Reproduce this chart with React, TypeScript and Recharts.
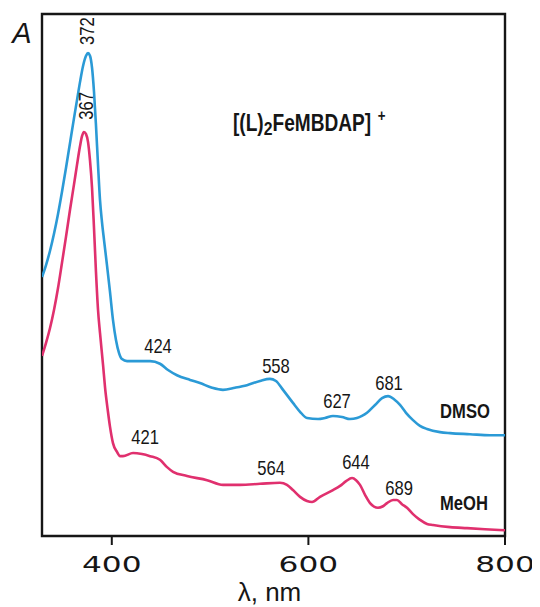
import { LineChart, Line, XAxis, YAxis, ReferenceArea, ReferenceDot } from "recharts";

// wavelength (nm) / absorbance (arb. units)
const dmsoNm = [329, 333.1, 337.1, 341.2, 345.3, 349.3, 353.4, 357.5, 361.6, 364.6, 367.7, 370.7, 373.8, 375.8, 377.8, 379.9, 381.9, 383.9, 386, 388, 390, 392.1, 395.1, 398.2, 401.2, 404.3, 407.3, 410.4, 415.5, 438.9, 449, 457.2, 466.3, 479.6, 489.7, 502, 513.1, 525.3, 537.5, 550.8, 560.9, 567, 574.2, 584.3, 591.5, 598.6, 609.8, 616.9, 625, 634.2, 642.3, 649.4, 654.5, 659.6, 667.8, 674.9, 681, 687.1, 693.2, 699.3, 706.4, 713.5, 720.7, 733.9, 744.1, 764.4, 784.7, 800];
const dmsoA = [0.496, 0.519, 0.546, 0.579, 0.617, 0.659, 0.705, 0.753, 0.801, 0.835, 0.87, 0.9, 0.92, 0.925, 0.92, 0.897, 0.851, 0.787, 0.711, 0.644, 0.602, 0.567, 0.519, 0.467, 0.414, 0.375, 0.351, 0.339, 0.335, 0.335, 0.33, 0.318, 0.308, 0.299, 0.293, 0.284, 0.28, 0.284, 0.289, 0.297, 0.301, 0.297, 0.28, 0.255, 0.238, 0.226, 0.224, 0.226, 0.23, 0.228, 0.224, 0.226, 0.23, 0.236, 0.251, 0.264, 0.268, 0.262, 0.251, 0.236, 0.222, 0.211, 0.205, 0.199, 0.197, 0.195, 0.193, 0.193];

const meohNm = [329, 333.1, 337.1, 341.2, 345.3, 349.3, 353.4, 357.5, 361.6, 364.6, 367.7, 369.7, 371.7, 373.8, 375.8, 377.8, 379.9, 381.9, 383.9, 386, 388, 391.1, 393.1, 396.1, 398.2, 401.2, 405.3, 408.4, 411.4, 421.6, 430.7, 438.9, 449, 456.2, 462.3, 476.5, 496.9, 513.1, 530.4, 550.8, 571.1, 578.2, 584.3, 591.5, 598.6, 603.7, 611.8, 625, 632.2, 638.3, 644.4, 648.5, 652.5, 657.6, 662.7, 670.8, 675.9, 680, 686.1, 690.1, 695.2, 700.3, 706.4, 713.5, 720.7, 726.8, 744.1, 761.4, 779.7, 800];
const meohA = [0.345, 0.37, 0.398, 0.433, 0.475, 0.523, 0.573, 0.625, 0.674, 0.711, 0.747, 0.766, 0.774, 0.77, 0.755, 0.72, 0.667, 0.59, 0.506, 0.433, 0.389, 0.328, 0.285, 0.238, 0.209, 0.178, 0.161, 0.153, 0.153, 0.159, 0.157, 0.153, 0.146, 0.132, 0.123, 0.115, 0.107, 0.098, 0.098, 0.1, 0.102, 0.098, 0.088, 0.075, 0.067, 0.065, 0.075, 0.088, 0.096, 0.105, 0.111, 0.107, 0.098, 0.079, 0.063, 0.054, 0.057, 0.063, 0.069, 0.069, 0.061, 0.054, 0.042, 0.031, 0.023, 0.021, 0.017, 0.015, 0.013, 0.011];

const xTicks = [400, 600, 800];

// peak labels: text, wavelength, absorbance where the label sits
const peakText = ["372", "367", "424", "558", "627", "681", "421", "564", "644", "689"];
const peakNm = [374.8, 373.8, 447, 567, 629.1, 682, 433.8, 562, 648.4, 692.2];
const peakA = [0.967, 0.824, 0.364, 0.326, 0.259, 0.293, 0.19, 0.13, 0.142, 0.092];
const peakVertical = [true, true, false, false, false, false, false, false, false, false];

const solventText = ["DMSO", "MeOH"];
const solventNm = [759.3, 758.3];
const solventA = [0.239, 0.063];

const dmso = dmsoNm.map((nm, i) => ({ nm, a: dmsoA[i] }));
const meoh = meohNm.map((nm, i) => ({ nm, a: meohA[i] }));

const sans = '"Liberation Sans", Arial, Helvetica, sans-serif';
const ink = "#161616";
const squeeze = 0.83;

const BigTick = (props: any) => {
  const { x, y, payload } = props;
  return (
    <g transform={`translate(${x},${y})`}>
      <text transform="scale(1.42,1)" textAnchor="middle" dy="0.71em" fontSize={22} fontFamily='"DejaVu Sans", sans-serif' fill={ink}>
        {payload.value}
      </text>
    </g>
  );
};

export default function App() {
  return (
    <div style={{ width: 532, height: 599, background: "#fff" }}>
      <LineChart width={532} height={599} margin={{ top: 6, right: 35, bottom: 11, left: 34 }}>
        <XAxis
          type="number"
          dataKey="nm"
          domain={[329, 800]}
          ticks={xTicks}
          allowDataOverflow
          axisLine={false}
          tickLine={{ stroke: ink, strokeWidth: 2 }}
          tickSize={9}
          tickMargin={11}
          height={60}
          tick={<BigTick />}
          label={{
            content: (p: any) => (
              <text x={p.viewBox.x + p.viewBox.width / 2 - 4} y={p.viewBox.y + 65} textAnchor="middle" fontSize={26} fontFamily={sans} fill={ink}>
                λ, nm
              </text>
            )
          }}
        />
        <YAxis type="number" domain={[0, 1]} allowDataOverflow width={0} tick={false} axisLine={false} tickLine={false} />
        <ReferenceArea x1={329} x2={800} y1={0} y2={1} fill="none" fillOpacity={0} stroke={ink} strokeWidth={2.4} ifOverflow="visible" />
        <Line data={dmso} dataKey="a" type="monotone" stroke="#2b9ad6" strokeWidth={2.6} dot={false} isAnimationActive={false} />
        <Line data={meoh} dataKey="a" type="monotone" stroke="#e0306e" strokeWidth={2.6} dot={false} isAnimationActive={false} />
        {/* y-axis title, sits left of the frame */}
        <ReferenceDot
          x={308.7}
          y={0.964}
          r={1}
          ifOverflow="visible"
          shape={(p: any) => (
            <text x={p.cx} y={p.cy} textAnchor="middle" dominantBaseline="central" fontSize={29} fontStyle="italic" fontFamily={sans} fill={ink}>
              A
            </text>
          )}
        />
        {peakText.map((t, i) => (
          <ReferenceDot
            key={t + i}
            x={peakNm[i]}
            y={peakA[i]}
            r={1}
            ifOverflow="visible"
            shape={(p: any) => (
              <g transform={`translate(${p.cx},${p.cy})${peakVertical[i] ? " rotate(-90)" : ""} scale(${squeeze},1)`}>
                <text x={0} y={0} textAnchor="middle" dominantBaseline="central" fontSize={20} fontFamily={sans} fill={ink}>
                  {t}
                </text>
              </g>
            )}
          />
        ))}
        {solventText.map((t, i) => (
          <ReferenceDot
            key={t}
            x={solventNm[i]}
            y={solventA[i]}
            r={1}
            ifOverflow="visible"
            shape={(p: any) => (
              <g transform={`translate(${p.cx},${p.cy}) scale(${squeeze},1)`}>
                <text x={0} y={0} textAnchor="middle" dominantBaseline="central" fontSize={20} fontWeight="bold" fontFamily={sans} fill={ink}>
                  {t}
                </text>
              </g>
            )}
          />
        ))}
        <ReferenceDot
          x={523.3}
          y={0.776}
          r={1}
          ifOverflow="visible"
          shape={(p: any) => (
            <g transform={`translate(${p.cx},${p.cy}) scale(${squeeze},1)`}>
              <text x={0} y={0} fontSize={23} fontWeight="bold" fontFamily={sans} fill={ink}>
                [(L)
                <tspan fontSize={19} dy={4}>2</tspan>
                <tspan dy={-4}>FeMBDAP]</tspan>
                <tspan fontSize={16} dx={8} dy={-10}>+</tspan>
              </text>
            </g>
          )}
        />
      </LineChart>
    </div>
  );
}
